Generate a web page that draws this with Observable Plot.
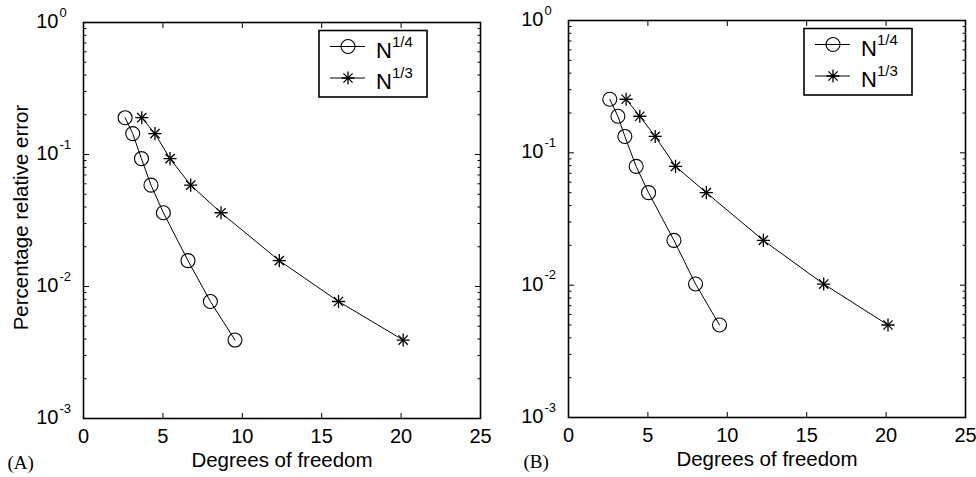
<!DOCTYPE html>
<html><head><meta charset="utf-8">
<script src="https://cdn.jsdelivr.net/npm/d3@7"></script>
<script src="https://cdn.jsdelivr.net/npm/@observablehq/plot@0.6"></script>
<style>
body{margin:0;background:#fff;}
#wrap{display:flex;width:976px;height:477px;overflow:hidden;background:#fff;}
#wrap svg{display:block;overflow:visible;}
</style></head><body><div id="wrap"></div>
<script>
// ---- data ----
const dofCircleA = [2.62, 3.10, 3.65, 4.25, 5.03, 6.58, 7.99, 9.54];
const dofStarA   = [3.67, 4.50, 5.45, 6.75, 8.66, 12.33, 16.06, 20.13];
const errA       = [0.19, 0.144, 0.093, 0.0586, 0.0362, 0.0157, 0.0077, 0.00393];
const dofCircleB = [2.60, 3.11, 3.55, 4.26, 5.04, 6.64, 8.00, 9.51];
const dofStarB   = [3.63, 4.49, 5.46, 6.74, 8.68, 12.27, 16.07, 20.12];
const errB       = [0.254, 0.189, 0.133, 0.079, 0.050, 0.0218, 0.0102, 0.0050];
const xTicks = [0, 5, 10, 15, 20, 25];
const yMajor = [1e-3, 1e-2, 1e-1, 1];
const yExp = ["-3", "-2", "-1", "0"];
const yMinor = [2e-3,3e-3,4e-3,5e-3,6e-3,7e-3,8e-3,9e-3,
                2e-2,3e-2,4e-2,5e-2,6e-2,7e-2,8e-2,9e-2,
                2e-1,3e-1,4e-1,5e-1,6e-1,7e-1,8e-1,9e-1];
const seriesBase = ["N", "N"];
const seriesSup = ["1/4", "1/3"];
const panelLetters = ["(A)", "(B)"];
const xLabel = "Degrees of freedom";
const yLabel = "Percentage relative error";

const SANS = "'Liberation Sans', Arial, Helvetica, sans-serif";
const SERIF = "'Liberation Serif', 'Times New Roman', serif";

function panel({cx, sx, err, letter, showY, width, ml, mr, mt, mb, letterDx}) {
  const circles = cx.map((x, i) => ({x, y: err[i]}));
  const stars = sx.map((x, i) => ({x, y: err[i]}));
  const H = 477;
  const blank = () => "";
  const marks = [
    Plot.axisX({anchor: "bottom", ticks: xTicks, tickSize: -5, tickFormat: blank, label: null}),
    Plot.axisX({anchor: "top", ticks: xTicks, tickSize: -5, tickFormat: blank, label: null}),
    Plot.axisY({anchor: "left", ticks: yMajor, tickSize: -6, tickFormat: blank, label: null}),
    Plot.axisY({anchor: "right", ticks: yMajor, tickSize: -6, tickFormat: blank, label: null}),
    Plot.axisY({anchor: "left", ticks: yMinor, tickSize: -3.5, tickFormat: blank, label: null}),
    Plot.axisY({anchor: "right", ticks: yMinor, tickSize: -3.5, tickFormat: blank, label: null}),
    Plot.frame({stroke: "#000", strokeWidth: 1.6}),
    Plot.text(xTicks, {x: d => d, frameAnchor: "bottom", dy: 18, text: d => String(d), fontSize: 20, lineAnchor: "middle", textAnchor: "middle"}),
    Plot.text(yMajor, {y: d => d, frameAnchor: "left", dx: -25, dy: -1, textAnchor: "end", text: () => "10", fontSize: 20, lineAnchor: "middle"}),
    Plot.text(yMajor, {y: d => d, frameAnchor: "left", dx: -24, dy: -10, textAnchor: "start", text: (d, i) => yExp[i], fontSize: 13, lineAnchor: "middle"}),
    Plot.text([xLabel], {frameAnchor: "bottom", dy: 42, text: d => d, fontSize: 20.5, lineAnchor: "middle", textAnchor: "middle"}),
    Plot.text([letter], {frameAnchor: "bottom-left", dx: letterDx, dy: 44, text: d => d, fontSize: 19, fontFamily: SERIF, lineAnchor: "middle", textAnchor: "start"}),
    Plot.line(circles, {x: "x", y: "y", stroke: "#000", strokeWidth: 1}),
    Plot.line(stars, {x: "x", y: "y", stroke: "#000", strokeWidth: 1}),
    Plot.dot(circles, {x: "x", y: "y", r: 7, stroke: "#000", fill: "none", strokeWidth: 1.1}),
    Plot.dot(stars, {x: "x", y: "y", symbol: "plus", r: 4.3, stroke: "#000", strokeWidth: 1.3}),
    Plot.dot(stars, {x: "x", y: "y", symbol: "times", r: 4.3, stroke: "#000", strokeWidth: 1.3})
  ];
  if (showY) {
    marks.push(Plot.text([yLabel], {frameAnchor: "left", dx: -62, dy: -3, rotate: -90, text: d => d, fontSize: 20.5, lineAnchor: "middle", textAnchor: "middle"}));
  }
  const svg = Plot.plot({
    width, height: H,
    marginLeft: ml, marginRight: mr, marginTop: mt, marginBottom: mb,
    x: {domain: [0, 25]},
    y: {type: "log", domain: [1e-3, 1]},
    style: {fontFamily: SANS, background: "transparent", color: "#000", overflow: "visible"},
    marks
  });
  // legend box (MATLAB-style), positioned relative to the frame
  const s = d3.select(svg);
  const fl = ml, ft = mt;
  const g = s.append("g").attr("font-family", SANS).attr("text-anchor", "start");
  g.append("rect").attr("x", fl + 236).attr("y", ft + 8.5).attr("width", 108).attr("height", 66.5)
    .attr("fill", "#fff").attr("stroke", "#000").attr("stroke-width", 1.6);
  const rows = [ft + 24.5, ft + 56];
  rows.forEach((ry, i) => {
    g.append("line").attr("x1", fl + 247).attr("x2", fl + 282).attr("y1", ry).attr("y2", ry)
      .attr("stroke", "#000").attr("stroke-width", 1);
    const mx = fl + 265;
    if (i === 0) {
      g.append("circle").attr("cx", mx).attr("cy", ry).attr("r", 7).attr("fill", "none").attr("stroke", "#000").attr("stroke-width", 1.1);
    } else {
      const a = 6.5;
      const d2 = a * 0.707;
      g.append("path").attr("d", `M${mx - a},${ry}H${mx + a}M${mx},${ry - a}V${ry + a}M${mx - d2},${ry - d2}L${mx + d2},${ry + d2}M${mx - d2},${ry + d2}L${mx + d2},${ry - d2}`)
        .attr("stroke", "#000").attr("stroke-width", 1.3).attr("fill", "none");
    }
    const t = g.append("text").attr("x", fl + 293).attr("y", ry + 11).attr("font-size", 22).attr("fill", "#000");
    t.append("tspan").text(seriesBase[i]);
    t.append("tspan").attr("dy", -11).attr("font-size", 15).text(seriesSup[i]);
  });
  return svg;
}

const wrap = document.getElementById("wrap");
wrap.appendChild(panel({cx: dofCircleA, sx: dofStarA, err: errA, letter: panelLetters[0], showY: true,
  width: 486, ml: 83, mr: 6, mt: 22, mb: 59, letterDx: -76}));
wrap.appendChild(panel({cx: dofCircleB, sx: dofStarB, err: errB, letter: panelLetters[1], showY: false,
  width: 490, ml: 82, mr: 11, mt: 20, mb: 60, letterDx: -45}));
</script></body></html>
